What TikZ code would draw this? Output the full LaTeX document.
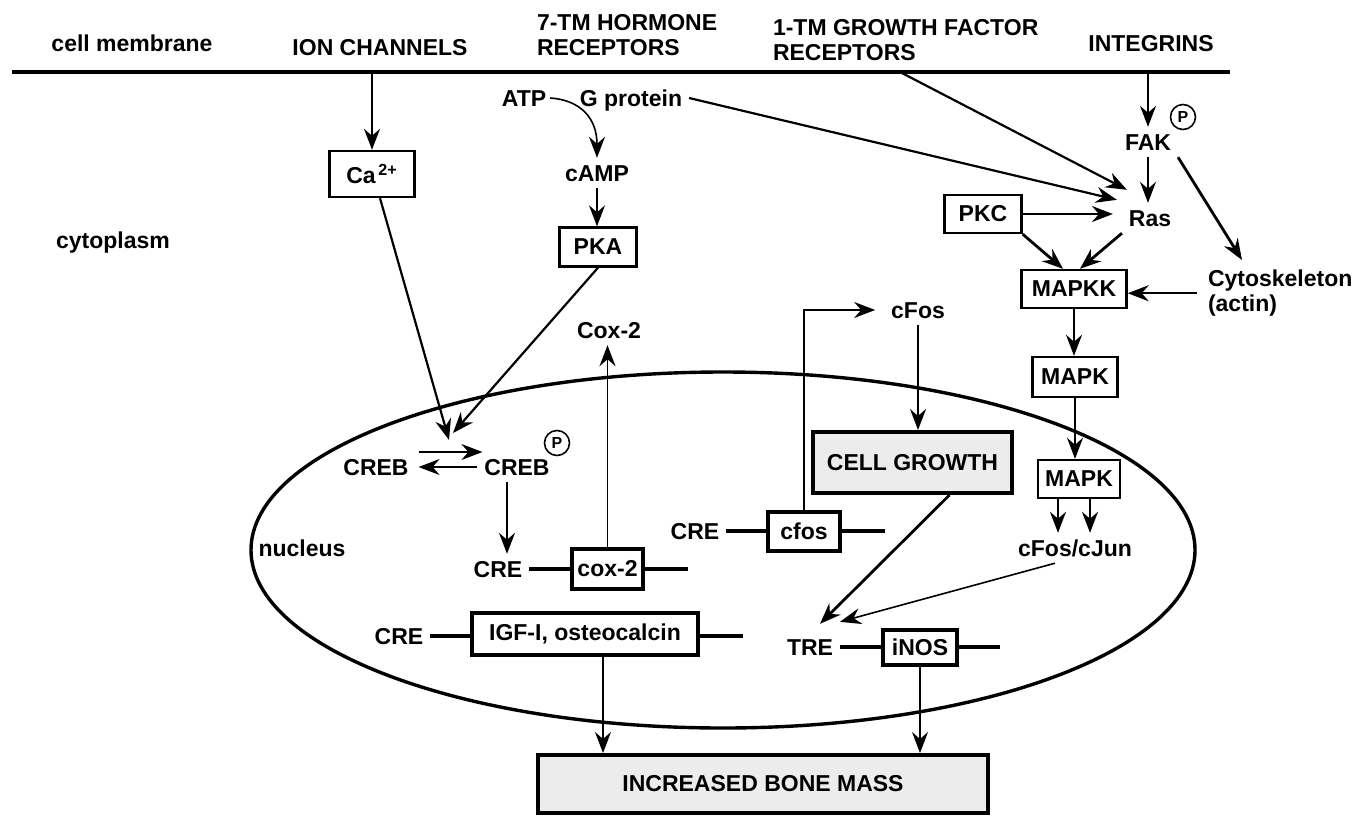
\documentclass[tikz,border=0pt]{standalone}
\usepackage{fontspec}
\setmainfont{Liberation Sans}
\usetikzlibrary{arrows.meta,calc}
\begin{document}
\begin{tikzpicture}[x=0.5pt,y=-0.5pt,
  every node/.style={font=\fontsize{11.5pt}{12.5pt}\selectfont\bfseries},
  lbl/.style={inner sep=0pt, outer sep=3.5pt, text height=8.2pt, text depth=0pt},
  lbltwo/.style={inner sep=0pt, outer sep=0pt, align=left},
  box/.style={draw, line width=1.2pt, inner sep=0pt, fill=white},
  tbox/.style={draw, line width=2pt, inner sep=0pt, fill=white},
  gbox/.style={draw, line width=2pt, inner sep=0pt, fill=gray!15},
  pcirc/.style={circle, draw, line width=0.8pt, inner sep=0pt, minimum size=12.5pt,
                font=\fontsize{8pt}{8pt}\selectfont\bfseries},
  arr/.style={-{Stealth[length=10.5pt,width=8pt,inset=3.5pt]}, line width=1.1pt},
  thinarr/.style={arr, line width=0.8pt},
  thickarr/.style={arr, line width=1.4pt},
  gene/.style={line width=1.7pt},
  memline/.style={line width=1.8pt}
]
\useasboundingbox (0,0) rectangle (1354,815);

% membrane and labels
\coordinate (memL) at (12,72);
\coordinate (memR) at (1230,72);
\draw[memline] (memL) -- (memR);
\node[lbl] (tmem) at (132,43) {cell membrane};
\node[lbl] (tion) at (380,47) {ION CHANNELS};
\node[lbltwo, anchor=north west] (t7tm) at (537,14) {7-TM HORMONE\\RECEPTORS};
\node[lbltwo, anchor=north west] (t1tm) at (773,19) {1-TM GROWTH FACTOR\\RECEPTORS};
\node[lbl] (tint) at (1151,43) {INTEGRINS};
\node[lbl] (tcyto) at (113,240) {cytoplasm};

% nucleus
\draw[line width=1.7pt] (723,550) ellipse [x radius=236pt, y radius=89pt];
\node[lbl] (tnuc) at (302,548) {nucleus};

% cytoplasm nodes
\node[box, minimum width=42.5pt, minimum height=23pt] (ca) at (372,174) {Ca\textsuperscript{\,2+}};
\node[lbl] (atp) at (524,98) {ATP};
\node[lbl] (gp) at (631,98) {G protein};
\node[lbl] (camp) at (597,173) {cAMP};
\node[box, minimum width=38.5pt, minimum height=19.5pt] (pka) at (598,247) {PKA};
\node[lbl] (cox2t) at (609,330) {Cox-2};
\node[lbl] (cfost) at (918,310) {cFos};
\node[lbl] (fak) at (1148,142) {FAK};
\node[pcirc] (pfak) at (1183,117) {P};
\node[lbl] (ras) at (1150,218) {Ras};
\node[box, minimum width=38.5pt, minimum height=19pt] (pkc) at (983,214) {PKC};
\node[box, minimum width=52.5pt, minimum height=19pt] (mapkk) at (1074,289) {MAPKK};
\node[lbltwo, anchor=north west] (cyto) at (1208,270) {Cytoskeleton\\(actin)};
\node[box, minimum width=42.5pt, minimum height=20pt] (mapka) at (1075,377) {MAPK};
\node[box, minimum width=41pt, minimum height=19pt] (mapkb) at (1079,479) {MAPK};
\node[lbl] (cfj) at (1075,548) {cFos/cJun};

% nucleus nodes
\node[gbox, minimum width=99.5pt, minimum height=30.5pt] (cg) at (912.5,462.5) {CELL GROWTH};
\node[lbl] (creba) at (376,467) {CREB};
\node[lbl] (crebb) at (517,467) {CREB};
\node[pcirc] (pcreb) at (557,443) {P};
\node[lbl] (crea) at (498,569) {CRE};
\node[tbox, minimum width=35.5pt, minimum height=20pt] (cox) at (607.5,569) {cox-2};
\node[lbl] (creb) at (695,531) {CRE};
\node[tbox, minimum width=36pt, minimum height=19.5pt] (cfos) at (804,531) {cfos};
\node[lbl] (crec) at (399,636) {CRE};
\node[tbox, minimum width=113pt, minimum height=21pt] (igf) at (585,634) {IGF-I, osteocalcin};
\node[lbl] (tre) at (810,647) {TRE};
\node[tbox, minimum width=37pt, minimum height=17.5pt] (inos) at (920,647) {iNOS};
\node[gbox, minimum width=225pt, minimum height=29pt] (bone) at (763,784) {INCREASED BONE MASS};

% gene lines
\coordinate (coxend) at (688,569);
\coordinate (cfosend) at (885,531);
\coordinate (igfend) at (743,636);
\coordinate (inosend) at (1000,647);
\draw[gene] (crea.east) -- (cox.west) (cox.east) -- (coxend);
\draw[gene] (creb.east) -- (cfos.west) (cfos.east) -- (cfosend);
\draw[gene] (crec.east) -- (crec.east -| igf.west) (igf.east |- crec.east) -- (igfend);
\draw[gene] (tre.east) -- (inos.west) (inos.east) -- (inosend);

% connectors, left part
\draw[thinarr] (ca.north |- memL) -- (ca.north);
\draw[arr] ($(ca.south)+(8,0)$) -- ($(creba)+(73,-27)$);
\draw[arr] (pka.south) -- ($(creba)+(77,-34)$);
\draw[thinarr] ($(atp.east)+(-3,0)$) .. controls +(30,2) and +(0,-40) .. (camp.north);
\draw[thinarr] (camp.south) -- (camp.south |- pka.north);
\draw[thinarr] ($(creba.east)+(3,-15)$) -- ($(crebb.west)+(5,-15)$);
\draw[thinarr] (crebb.west) -- ($(creba.east)+(3,0)$);
\coordinate (crebbs) at ($(crebb.south)+(-10,0)$);
\draw[thinarr] (crebbs) -- (crebbs |- crea.north);
\draw[thinarr] (cox.north) -- (cox.north |- cox2t.south);
\coordinate (igfs) at ($(igf.south)+(18,0)$);
\draw[thinarr] (igfs) -- (igfs |- bone.north);

% connectors, right part
\coordinate (gfr) at (900,72);
\draw[arr] (gp.east) -- ($(ras.north west)+(-5,-3)$);
\draw[arr] (gfr) -- ($(ras.north west)+(5,-13)$);
\draw[thinarr] (fak.north |- memL) -- (fak.north);
\draw[thinarr] (fak.south) -- (fak.south |- ras.north);
\draw[thickarr] (fak.south east) -- ($(cyto.north west)+(34,-10)$);
\draw[arr, shorten >=4.5pt] (pkc.east) -- (pkc.east -| ras.west);
\draw[thickarr] (pkc.south east) -- ($(mapkk.north)+(-11,0)$);
\draw[thickarr] (ras.south west) -- ($(mapkk.north)+(6,0)$);
\draw[arr, shorten <=5.5pt] (cyto.west) -- (cyto.west -| mapkk.east);
\draw[arr] (mapkk.south) -- (mapkk.south |- mapka.north);
\draw[thinarr] (mapka.south) -- (mapka.south |- mapkb.north);
\coordinate (mba) at ($(mapkb.south)+(-21,0)$);
\coordinate (mbb) at ($(mapkb.south)+(11,0)$);
\draw[arr] (mba) -- (mba |- cfj.north);
\draw[arr] (mbb) -- (mbb |- cfj.north);
\draw[thinarr] ($(cfj.south)+(-20,0)$) -- ($(tre.north east)+(0,-10)$);
\draw[thickarr] ($(cg.south)+(37,0)$) -- ($(tre.north)+(10,-8)$);
\draw[arr] (cfost.south) -- (cfost.south |- cg.north);
\draw[thinarr, shorten >=4.5pt] (cfos.north) |- (cfost.west);
\draw[thinarr] (inos.south) -- (inos.south |- bone.north);
\end{tikzpicture}
\end{document}
